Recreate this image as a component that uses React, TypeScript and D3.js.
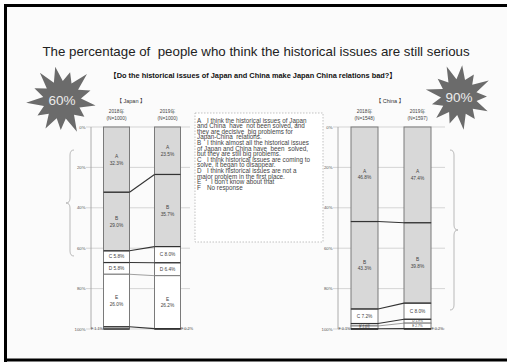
import React from 'react';
import * as d3 from 'd3';

const categories = ['A', 'B', 'C', 'D', 'E', 'F'];
const years = ['2018年', '2019年'];
const japanN = ['(N=1000)', '(N=1000)'];
const chinaN = ['(N=1548)', '(N=1597)'];
const japan2018 = [32.3, 29.0, 5.8, 5.8, 26.0, 1.1];
const japan2019 = [23.5, 35.7, 8.0, 6.4, 26.2, 0.2];
const china2018 = [46.8, 43.3, 7.2, 1.2, 1.4, 0.1];
const china2019 = [47.4, 39.8, 8.0, 1.9, 2.7, 0.2];
const tickValues = [0, 20, 40, 60, 80, 100];
const badgeLabels = ['60%', '90%'];
const titleText = 'The percentage of  people who think the historical issues are still serious';
const subtitleText = '【Do the historical issues of Japan and China make Japan China relations bad?】';
const legendLines: [string, string][] = [
  ['A', 'I think the historical issues of Japan'],
  ['', 'and China  have  not been solved, and'],
  ['', 'they are decisive  big problems for'],
  ['', 'Japan-China  relations.'],
  ['B', 'I think almost all the historical issues'],
  ['', 'of Japan and China have  been  solved,'],
  ['', 'but they are still big problems.'],
  ['C', 'I think historical issues are coming to'],
  ['', 'solve, it began to disappear.'],
  ['D', 'I think historical issues are not a'],
  ['', 'major problem in the first place.'],
  ['E', 'I don\'t know about that'],
  ['F', 'No response'],
];

const FONT = "'Liberation Sans', Arial, 'Noto Sans CJK JP', sans-serif";

type PanelProps = {
  header: string;
  headerX: number;
  ns: string[];
  values: number[][];
  centerRange: [number, number];
  barW: number;
  axisX: number;
  gridRange: [number, number];
};

function Panel({ header, headerX, ns, values, centerRange, barW, axisX, gridRange }: PanelProps) {
  const y = d3.scaleLinear().domain([0, 100]).range([127, 329]);
  const x = d3.scalePoint<string>().domain(years).range(centerRange);
  const rows = years.map((yr, i) => {
    const r: any = { year: yr };
    categories.forEach((c, j) => (r[c] = values[i][j]));
    return r;
  });
  const stacked = d3.stack<any>().keys(categories)(rows);
  const left = (i: number) => (x(years[i]) as number) - barW / 2;
  const right = (i: number) => (x(years[i]) as number) + barW / 2;

  return (
    <g fontFamily={FONT}>
      <text x={headerX} y={103} fontSize={5.5} textAnchor="middle" fill="#333" style={{ whiteSpace: 'pre' }}>
        {header}
      </text>
      {years.map((yr, i) => (
        <g key={yr}>
          <text x={x(yr)} y={113} fontSize={4.8} textAnchor="middle" fill="#444">{yr}</text>
          <text x={x(yr)} y={120} fontSize={4.8} textAnchor="middle" fill="#444">{ns[i]}</text>
        </g>
      ))}
      {tickValues.map((t) => (
        <g key={t}>
          <line x1={gridRange[0]} x2={gridRange[1]} y1={y(t)} y2={y(t)} stroke="#c4c4c4" strokeWidth={0.7} />
          <text x={axisX - 5.5} y={y(t) + 1.5} fontSize={4.3} textAnchor="end" fill="#555">{`${t}%`}</text>
        </g>
      ))}
      <line x1={axisX} x2={axisX} y1={y(0)} y2={y(100)} stroke="#999" strokeWidth={0.8} />
      {stacked.map((s) =>
        s.map((d, i) => (
          <rect
            key={s.key + i}
            x={left(i)}
            y={y(d[0])}
            width={barW}
            height={Math.max(0, y(d[1]) - y(d[0]))}
            fill={s.key === 'A' || s.key === 'B' ? '#d8d8d8' : '#ffffff'}
            stroke="#7a7a7a"
            strokeWidth={1}
          />
        ))
      )}
      {stacked.slice(0, 5).map((s) => (
        <g key={'c' + s.key}>
          <line
            x1={right(0)}
            x2={left(1)}
            y1={y(s[0][1])}
            y2={y(s[1][1])}
            stroke={s.key === 'D' ? '#888' : '#333'}
            strokeWidth={s.key === 'D' ? 0.8 : 1.1}
          />
          {s.key !== 'D' &&
            [0, 1].map((i) => (
              <line key={i} x1={left(i)} x2={right(i)} y1={y(s[i][1])} y2={y(s[i][1])} stroke="#333" strokeWidth={1.2} />
            ))}
        </g>
      ))}
      {[0, 1].map((i) => (
        <line key={'b' + i} x1={left(i)} x2={right(i)} y1={y(100)} y2={y(100)} stroke="#333" strokeWidth={1.4} />
      ))}
      {stacked.map((s) =>
        s.map((d, i) => {
          const v = d[1] - d[0];
          const mid = (y(d[0]) + y(d[1])) / 2;
          const cx = x(years[i]) as number;
          const label = `${v.toFixed(1)}%`;
          if (s.key === 'F') {
            return (
              <text
                key={'l' + s.key + i}
                x={i === 0 ? left(i) - 0.5 : right(i) + 0.5}
                y={y(100) + 1.2}
                fontSize={3.8}
                textAnchor={i === 0 ? 'end' : 'start'}
                fill="#444"
              >{`F ${label}`}</text>
            );
          }
          if (v >= 15) {
            return (
              <g key={'l' + s.key + i}>
                <text x={cx} y={mid - 1.5} fontSize={4.8} textAnchor="middle" fill="#444">{s.key}</text>
                <text x={cx} y={mid + 5} fontSize={4.8} textAnchor="middle" fill="#444">{label}</text>
              </g>
            );
          }
          return (
            <text
              key={'l' + s.key + i}
              x={cx}
              y={mid + (v >= 4 ? 1.7 : 1.1)}
              fontSize={v >= 4 ? 4.8 : 3.2}
              textAnchor="middle"
              fill="#444"
            >{`${s.key} ${label}`}</text>
          );
        })
      )}
    </g>
  );
}

function starPath(cx: number, cy: number, radii: number[], inner: number, rot: number) {
  const n = radii.length;
  const pts: [number, number][] = [];
  for (let i = 0; i < n; i++) {
    const a1 = rot + (i / n) * 2 * Math.PI;
    const a2 = rot + ((i + 0.5) / n) * 2 * Math.PI;
    pts.push([cx + radii[i] * Math.sin(a1), cy - radii[i] * Math.cos(a1)]);
    pts.push([cx + inner * Math.sin(a2), cy - inner * Math.cos(a2)]);
  }
  return (d3.line()(pts) as string) + 'Z';
}

export default function App() {
  const star60 = starPath(62, 100, [34, 29, 36, 30, 34, 28, 35, 30, 33, 29, 36, 30, 35], 19, -0.2);
  const star90 = starPath(459, 97, [32, 27, 34, 28, 32, 27, 33, 28, 31, 28, 34, 28, 33], 18, 0.1);
  return (
    <svg width={507} height={362} style={{ position: 'absolute', left: 0, top: 0 }} fontFamily={FONT}>
      <rect x={0} y={0} width={507} height={362} fill="#ffffff" />
      <rect x={7} y={7} width={500} height={351} fill="#fbfbfb" />
      <path d="M5.5,4 L5.5,362 M4,5.5 L507,5.5 M4,360 L507,360" stroke="#000" strokeWidth={3} fill="none" />
      <text x={256} y={56} fontSize={13.3} textAnchor="middle" fill="#222" style={{ whiteSpace: 'pre' }}>
        {titleText}
      </text>
      <text x={253} y={78} fontSize={7.4} fontWeight="bold" textAnchor="middle" fill="#111">
        {subtitleText}
      </text>
      <path d={star60} fill="#6b6b6b" />
      <path d={star90} fill="#6b6b6b" />
      <text x={62} y={105} fontSize={13.5} textAnchor="middle" fill="#ececec">{badgeLabels[0]}</text>
      <text x={459} y={102} fontSize={13.5} textAnchor="middle" fill="#ececec">{badgeLabels[1]}</text>
      <path
        d="M74,150 Q70,150 70,155 L70,198 Q70,203 66,203 Q70,203 70,208 L70,251 Q70,256 74,256"
        stroke="#aaa"
        strokeWidth={0.8}
        fill="none"
      />
      <path
        d="M450,150 Q454,150 454,155 L454,225 Q454,230 458,230 Q454,230 454,235 L454,305 Q454,310 450,310"
        stroke="#aaa"
        strokeWidth={0.8}
        fill="none"
      />
      <Panel
        header="【 Japan 】"
        headerX={131}
        ns={japanN}
        values={[japan2018, japan2019]}
        centerRange={[116.5, 167.5]}
        barW={26}
        axisX={91}
        gridRange={[86, 190]}
      />
      <Panel
        header="【 China 】"
        headerX={390}
        ns={chinaN}
        values={[china2018, china2019]}
        centerRange={[364.5, 417.5]}
        barW={27}
        axisX={338}
        gridRange={[333, 445]}
      />
      <rect x={195} y={113} width={128} height={129} fill="#fff" stroke="#aaa" strokeWidth={0.7} strokeDasharray="1.5,1.5" />
      {legendLines.map(([k, t], i) => (
        <g key={i} fontSize={6.3} fill="#444">
          {k && <text x={197} y={122.5 + i * 5.6}>{k}</text>}
          <text x={k ? (k === 'E' ? 211 : 207) : 197} y={122.5 + i * 5.6} style={{ whiteSpace: 'pre' }}>{t}</text>
        </g>
      ))}
    </svg>
  );
}
